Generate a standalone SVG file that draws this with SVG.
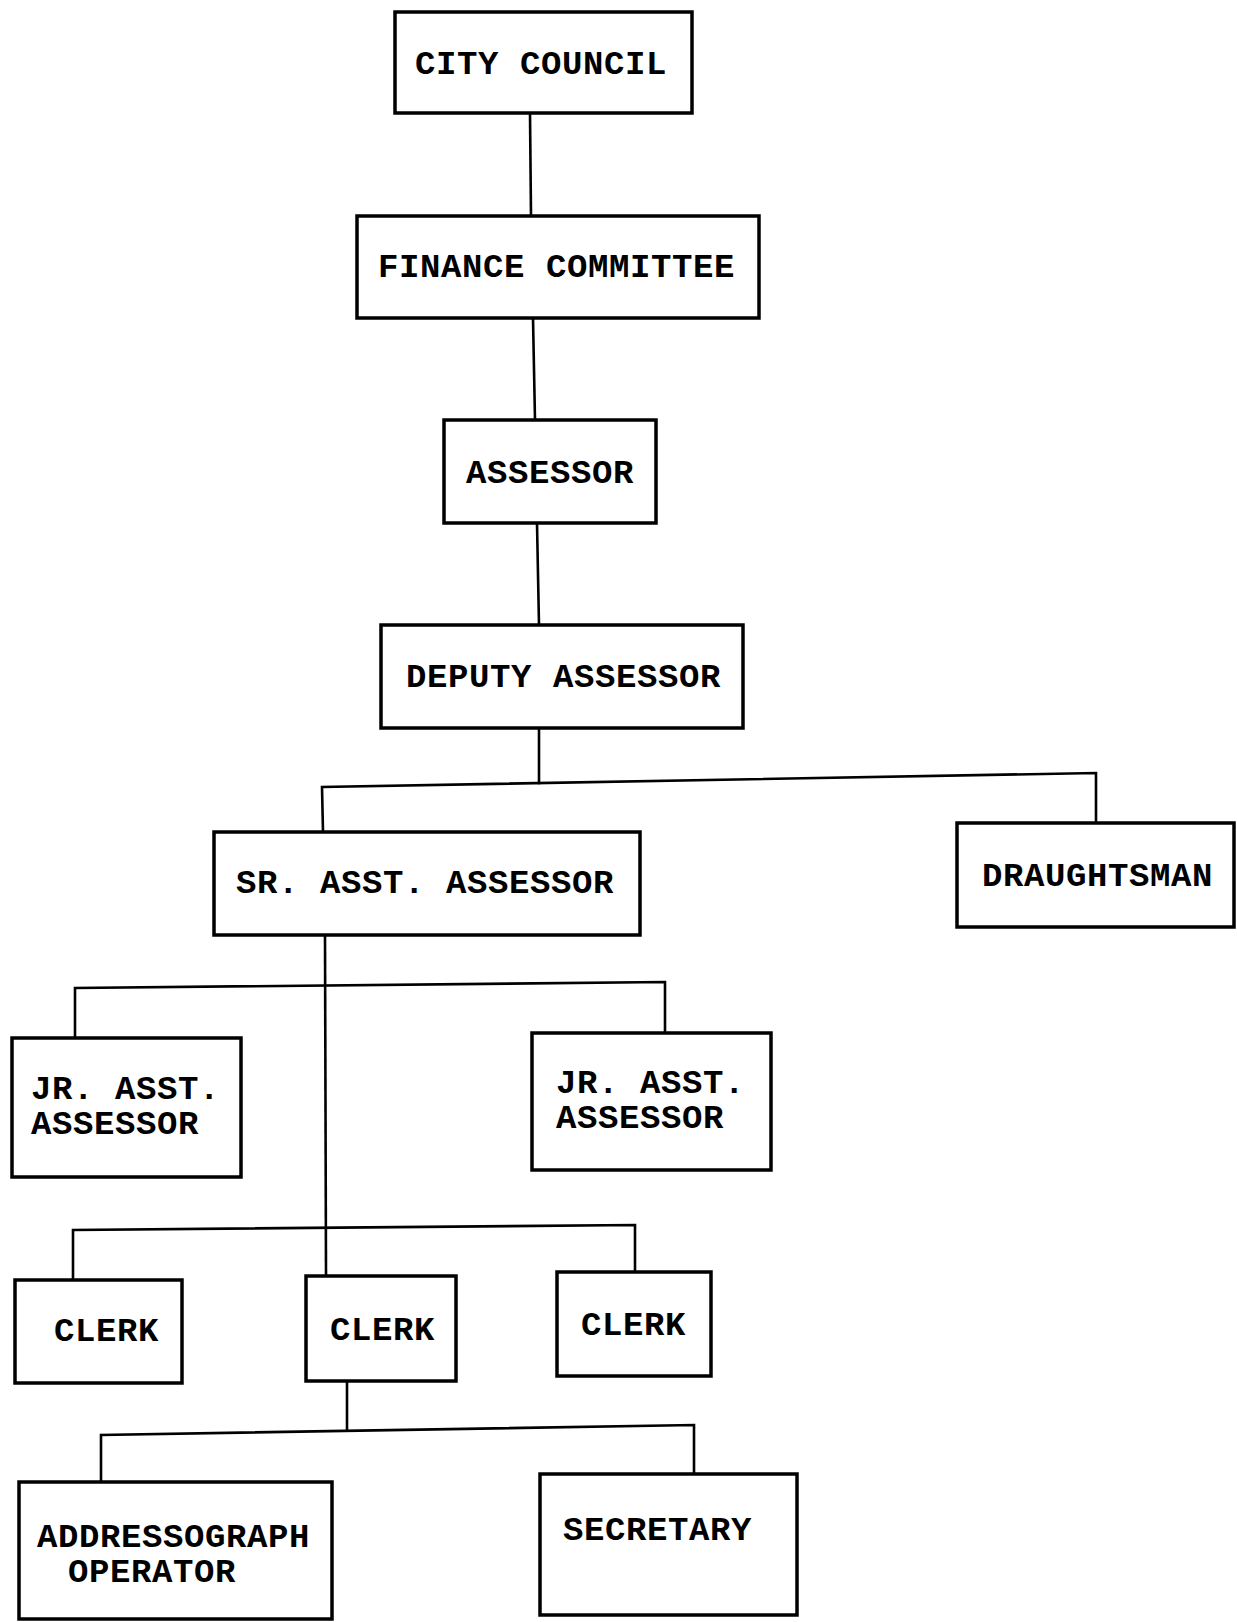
<svg xmlns="http://www.w3.org/2000/svg" width="1237" height="1622" viewBox="0 0 1237 1622">
<style>
.box{fill:#fff;stroke:#000;stroke-width:3.5}
.ln{fill:none;stroke:#000;stroke-width:2.6;stroke-linecap:square}
text{font-family:"Liberation Mono","Courier New",monospace;font-weight:bold;font-size:34px;letter-spacing:0.6px;fill:#000}
</style>
<rect width="1237" height="1622" fill="#fff"/>
<g id="connectors">
<polyline class="ln" points="530,113 531,216"/>
<polyline class="ln" points="533,318 535,420"/>
<polyline class="ln" points="537,523 539,625"/>
<polyline class="ln" points="539,728 539,783"/>
<polyline class="ln" points="323,832 322,787 1096,773 1096,823"/>
<polyline class="ln" points="325,935 326,1276"/>
<polyline class="ln" points="75,1038 75,988 665,982 665,1033"/>
<polyline class="ln" points="73,1280 73,1230 635,1225 635,1272"/>
<polyline class="ln" points="347,1382 347,1430"/>
<polyline class="ln" points="101,1482 101,1435 694,1425 694,1474"/>
</g>
<g id="city-council"><rect class="box" x="395" y="12" width="297" height="101"/><text x="415" y="74">CITY COUNCIL</text></g>
<g id="finance-committee"><rect class="box" x="357" y="216" width="402" height="102"/><text x="378" y="277">FINANCE COMMITTEE</text></g>
<g id="assessor"><rect class="box" x="444" y="420" width="212" height="103"/><text x="466" y="483">ASSESSOR</text></g>
<g id="deputy-assessor"><rect class="box" x="381" y="625" width="362" height="103"/><text x="406" y="687">DEPUTY ASSESSOR</text></g>
<g id="sr-asst-assessor"><rect class="box" x="214" y="832" width="426" height="103"/><text x="236" y="893">SR. ASST. ASSESSOR</text></g>
<g id="draughtsman"><rect class="box" x="957" y="823" width="277" height="104"/><text x="982" y="886">DRAUGHTSMAN</text></g>
<g id="jr-asst-assessor-1"><rect class="box" x="12" y="1038" width="229" height="139"/><text x="31" y="1099">JR. ASST.</text><text x="31" y="1134">ASSESSOR</text></g>
<g id="jr-asst-assessor-2"><rect class="box" x="532" y="1033" width="239" height="137"/><text x="556" y="1093">JR. ASST.</text><text x="556" y="1128">ASSESSOR</text></g>
<g id="clerk-1"><rect class="box" x="15" y="1280" width="167" height="103"/><text x="54" y="1341">CLERK</text></g>
<g id="clerk-2"><rect class="box" x="306" y="1276" width="150" height="105"/><text x="330" y="1340">CLERK</text></g>
<g id="clerk-3"><rect class="box" x="557" y="1272" width="154" height="104"/><text x="581" y="1335">CLERK</text></g>
<g id="addressograph-operator"><rect class="box" x="19" y="1482" width="313" height="137"/><text x="37" y="1547">ADDRESSOGRAPH</text><text x="68" y="1582">OPERATOR</text></g>
<g id="secretary"><rect class="box" x="540" y="1474" width="257" height="141"/><text x="563" y="1540">SECRETARY</text></g>
</svg>
